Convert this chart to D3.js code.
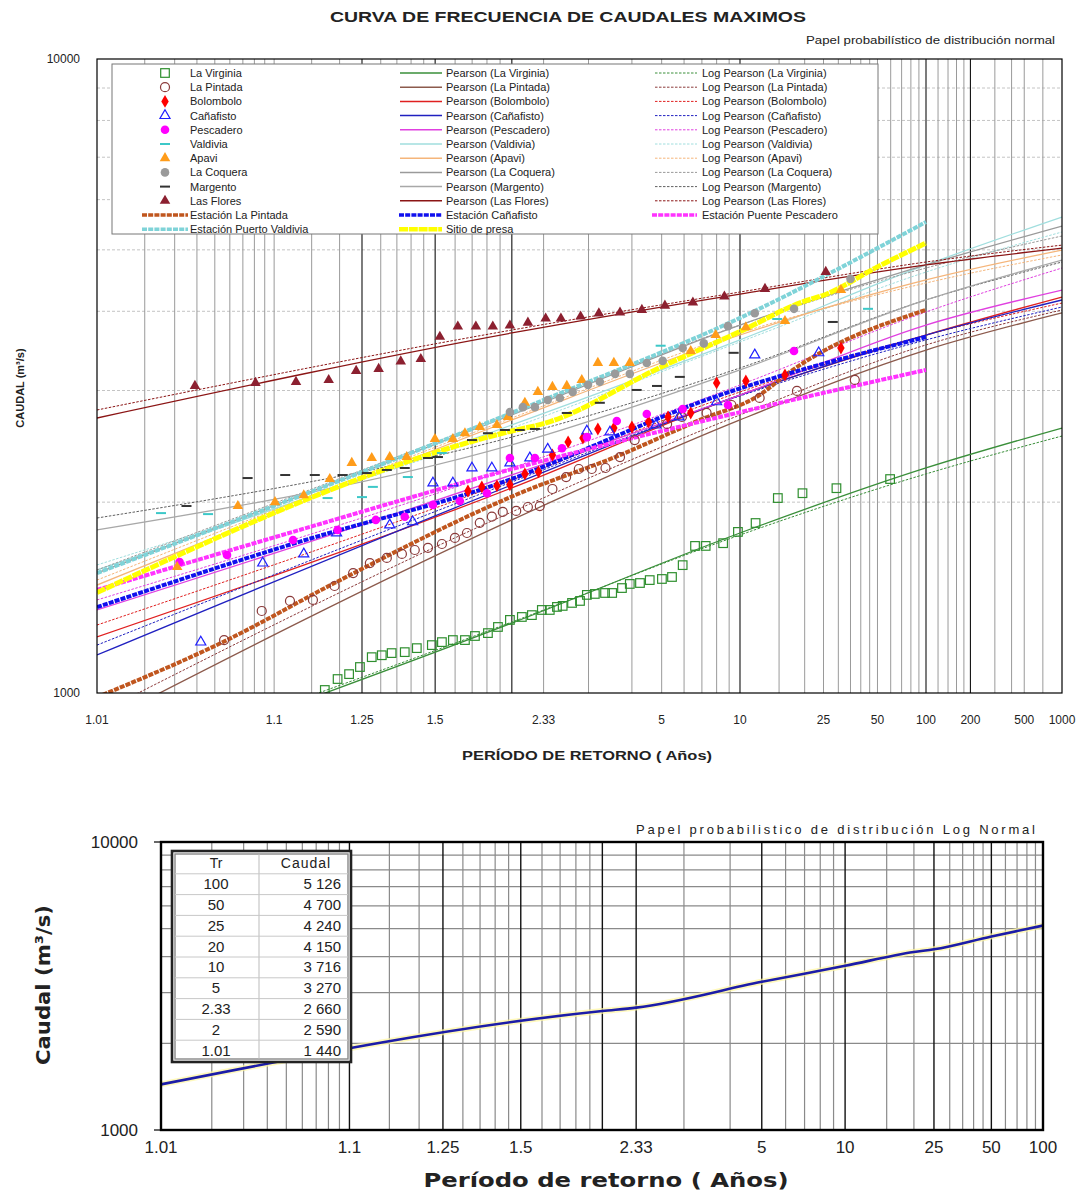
<!DOCTYPE html>
<html>
<head>
<meta charset="utf-8">
<script src="https://cdn.jsdelivr.net/npm/d3@7"></script>
<style>
  body { margin: 0; background: #fff; }
  svg { display: block; }
  text { font-family: "Liberation Sans", Arial, sans-serif; fill: #222; }
</style>
</head>
<body>
<div id="chart"></div>
<script>
// ---------- observed maxima [return period (years), caudal m3/s] ----------
const obsLaVirginia = [[1.172,1011],[1.196,1052],[1.22,1071],[1.245,1099],[1.275,1139],[1.303,1147],[1.333,1156],[1.377,1160],[1.422,1177],[1.485,1190],[1.532,1203],[1.588,1212],[1.656,1212],[1.718,1230],[1.807,1243],[1.883,1271],[1.983,1304],[2.094,1318],[2.197,1327],[2.309,1352],[2.406,1352],[2.5,1367],[2.58,1372],[2.72,1387],[2.85,1397],[2.97,1428],[3.12,1433],[3.33,1438],[3.49,1438],[3.73,1464],[3.94,1486],[4.24,1491],[4.56,1507],[5.01,1513],[5.43,1524],[5.93,1591],[6.59,1706],[7.24,1706],[8.5,1723],[9.8,1795],[11.7,1854],[14.8,2030],[19.5,2066],[29.3,2104],[59.5,2175]];
const obsLaPintada = [[1.056,1212],[1.087,1347],[1.119,1397],[1.152,1402],[1.19,1475],[1.229,1546],[1.27,1603],[1.318,1633],[1.367,1657],[1.414,1681],[1.468,1694],[1.532,1718],[1.599,1756],[1.668,1788],[1.75,1855],[1.836,1897],[1.922,1930],[2.04,1937],[2.155,1965],[2.285,1972],[2.44,2098],[2.63,2191],[2.83,2256],[3.06,2256],[3.34,2264],[3.68,2356],[4.08,2506],[5.22,2657],[5.89,2725],[7.3,2765],[9.2,2846],[12.2,2920],[18.3,2995],[37,3117]];
const obsBolombolo = [[1.674,2083],[1.764,2114],[1.875,2122],[1.983,2130],[2.124,2216],[2.27,2232],[2.44,2373],[2.66,2488],[2.9,2524],[3.18,2609],[3.53,2618],[4.0,2627],[4.52,2677],[5.26,2725],[6.35,2765],[8.0,3084],[10.6,3106],[16,3175],[31,3500]];
const obsCanafisto = [[1.042,1203],[1.088,1603],[1.138,1657],[1.194,1788],[1.327,1841],[1.406,1862],[1.49,2144],[1.588,2144],[1.699,2264],[1.836,2264],[1.983,2306],[2.175,2348],[2.38,2424],[2.97,2589],[3.44,2580],[4.78,2646],[5.75,2725],[8.0,2879],[11.6,3413],[23.6,3440]];
const obsPescadero = [[1.032,1609],[1.058,1651],[1.123,1743],[1.196,1808],[1.286,1875],[1.377,1897],[1.49,1980],[1.626,2008],[1.8,2066],[1.983,2348],[2.23,2348],[2.57,2433],[2.97,2533],[3.6,2686],[4.46,2755],[5.93,2805],[8.9,2846],[17.7,3463]];
const obsValdivia = [[1.025,1922],[1.046,1915],[1.177,2030],[1.25,2037],[1.278,2114],[1.388,2191],[1.532,2391],[4.96,3530],[14.7,3890],[44,4036]];
const obsApavi = [[1.031,1580],[1.066,1972],[1.101,2000],[1.138,2051],[1.181,2175],[1.226,2306],[1.275,2348],[1.327,2356],[1.384,2356],[1.499,2515],[1.588,2515],[1.656,2569],[1.75,2627],[1.875,2646],[1.966,2725],[2.124,2869],[2.263,2985],[2.44,3040],[2.64,3050],[2.88,3117],[3.18,3316],[3.53,3316],[3.94,3316],[6.35,3463],[7.93,3670],[10.6,3775],[16,3862],[31,4322]];
const obsLaCoquera = [[1.983,2775],[2.104,2824],[2.23,2824],[2.38,2899],[2.54,2920],[2.73,2985],[2.99,3062],[3.22,3096],[3.56,3187],[3.94,3187],[4.46,3316],[5.04,3341],[5.93,3500],[7.12,3560],[8.9,3790],[11.6,3972],[17.7,4036],[35,4500]];
const obsMargento = [[1.035,1972],[1.074,2183],[1.113,2207],[1.155,2207],[1.206,2207],[1.262,2223],[1.318,2248],[1.377,2264],[1.468,2348],[1.513,2356],[1.699,2506],[1.807,2569],[1.94,2599],[2.074,2599],[2.23,2609],[2.64,2765],[3.22,2869],[4.14,3006],[4.82,3050],[5.79,3152],[9.4,3440],[28,3848]];
const obsLasFlores = [[1.039,3050],[1.081,3084],[1.127,3095],[1.179,3117],[1.236,3221],[1.294,3245],[1.363,3334],[1.438,3364],[1.522,3646],[1.615,3784],[1.724,3784],[1.843,3784],[1.983,3798],[2.155,3838],[2.355,3896],[2.555,3896],[2.86,3925],[3.2,3969],[3.68,3983],[4.3,4020],[5.13,4083],[6.47,4130],[8.6,4220],[12.9,4339],[25.7,4615]];

// ---------- fitted distributions, caudal at these return periods ----------
const fitT = [1.01, 2, 10, 100, 1000];
const pearsonLaVirginia    = [740, 1289, 1788, 2265, 2618];
const logPearsonLaVirginia = [750, 1294, 1775, 2216, 2543];
const pearsonLaPintada     = [890, 1875, 2696, 3475, 3976];
const logPearsonLaPintada  = [927, 1930, 2745, 3540, 4019];
const pearsonBolombolo     = [1226, 2106, 2951, 3670, 4213];
const logPearsonBolombolo  = [1280, 2168, 2984, 3670, 4122];
const pearsonCanafisto     = [1148, 2129, 2951, 3670, 4168];
const logPearsonCanafisto  = [1190, 2152, 2941, 3605, 4063];
const pearsonPescadero     = [1352, 2208, 2951, 3805, 4320];
const logPearsonPescadero  = [1402, 2265, 3061, 3990, 4681];
const pearsonValdivia      = [1563, 2647, 3605, 4733, 5633];
const logPearsonValdivia   = [1592, 2618, 3579, 4613, 5335];
const pearsonApavi         = [1480, 2696, 3670, 4482, 4996];
const logPearsonApavi      = [1507, 2715, 3697, 4433, 4908];
const pearsonLaCoquera     = [1546, 2745, 3805, 4733, 5452];
const logPearsonLaCoquera  = [1563, 2765, 3805, 4681, 5258];
const pearsonMargento      = [1808, 2462, 3233, 4168, 4819];
const logPearsonMargento   = [1888, 2533, 3256, 4168, 4784];
const pearsonLasFlores     = [2715, 3697, 4258, 4733, 5033];
const logPearsonLasFlores  = [2795, 3737, 4290, 4784, 5087];

// ---------- regional curves ----------
const estLaPintadaT = [1.01, 1.058, 1.19, 2.074, 3.68, 6.87, 12.2, 16.9, 100];
const estLaPintadaQ = [985, 1212, 1491, 2066, 2373, 2696, 2952, 3210, 4020];
const estCanafistoT = [1.01, 1.126, 1.858, 8.25, 100];
const estCanafistoQ = [1366, 1724, 2129, 2951, 3643];
const estPescaderoT = [1.01, 1.132, 2.074, 8.25, 100];
const estPescaderoQ = [1454, 1808, 2273, 2725, 3233];
const estValdiviaT  = [1.01, 2.33, 10, 100];
const estValdiviaQ  = [1546, 2899, 3905, 5533];

// ---------- sitio de presa (table of the lower chart) ----------
const tableTr = [100, 50, 25, 20, 10, 5, 2.33, 2, 1.01];
const tableQ  = [5126, 4700, 4240, 4150, 3716, 3270, 2660, 2590, 1440];

// ---------- names / ticks ----------
const stations = ['La Virginia','La Pintada','Bolombolo','Cañafisto','Pescadero','Valdivia','Apavi','La Coquera','Margento','Las Flores'];
const topTicks = [1.01, 1.1, 1.25, 1.5, 2.33, 5, 10, 25, 50, 100, 200, 500, 1000];
const topMajorGrid = [1.25, 1.5, 2, 10, 100, 200];
const topMinorGrid = [1.02,1.03,1.04,1.05,1.06,1.07,1.08,1.09,1.1,1.15,1.2,1.3,1.35,1.4,1.45,1.6,1.7,1.8,1.9,2.33,3,4,5,6,7,8,9,15,20,25,30,35,40,45,50,60,70,80,90,120,140,160,180,300,400,500,700];
const botTicks = [1.01, 1.1, 1.25, 1.5, 2.33, 5, 10, 25, 50, 100];
const botMajorGrid = [1.1, 1.25, 1.5, 2, 2.33, 5, 10, 25, 50];
const botMinorGrid = [1.02,1.03,1.04,1.05,1.06,1.07,1.08,1.09,1.15,1.2,1.3,1.35,1.4,1.45,1.6,1.7,1.8,1.9,3,4,6,7,8,9,15,20,30,35,40,45,60,70,80,90];
const qGrid = [2000, 3000, 4000, 5000, 6000, 7000, 8000, 9000];

// ---------- styles ----------
const markerColors = ['#2f8f2f','#8b3a3a','#ff0000','#1f1fff','#ff00ff','#3cc8c8','#ff9c1a','#9a9a9a','#333333','#8c2030'];
const markerTypes  = ['square','ring','diamond','triangleOpen','dot','dash','triangle','dot','dash','triangle'];
const pearsonColors    = ['#3a8f3a','#8c5a4c','#e02020','#2020c0','#e040e0','#a0dede','#f5b57a','#9a9a9a','#a8a8a8','#8b1515'];
const logPearsonColors = ['#3a8f3a','#8c3a3a','#e02020','#2020c0','#e040e0','#a0dede','#f5b57a','#9a9a9a','#606060','#8b1515'];

const observed = [obsLaVirginia, obsLaPintada, obsBolombolo, obsCanafisto, obsPescadero, obsValdivia, obsApavi, obsLaCoquera, obsMargento, obsLasFlores];
const pearsonFits = [pearsonLaVirginia, pearsonLaPintada, pearsonBolombolo, pearsonCanafisto, pearsonPescadero, pearsonValdivia, pearsonApavi, pearsonLaCoquera, pearsonMargento, pearsonLasFlores];
const logPearsonFits = [logPearsonLaVirginia, logPearsonLaPintada, logPearsonBolombolo, logPearsonCanafisto, logPearsonPescadero, logPearsonValdivia, logPearsonApavi, logPearsonLaCoquera, logPearsonMargento, logPearsonLasFlores];

const regional = [
  {name: 'Estación La Pintada', T: estLaPintadaT, Q: estLaPintadaQ, color: '#c0561e', w: 4, dash: '5,1.2'},
  {name: 'Estación Cañafisto', T: estCanafistoT, Q: estCanafistoQ, color: '#1010ee', w: 4, dash: '5,1.2'},
  {name: 'Estación Puente Pescadero', T: estPescaderoT, Q: estPescaderoQ, color: '#ff33ff', w: 4, dash: '5,1.2'},
  {name: 'Estación Puerto Valdivia', T: estValdiviaT, Q: estValdiviaQ, color: '#7fd3d8', w: 4, dash: '5,1.2'},
  {name: 'Sitio de presa', T: tableTr.slice().reverse(), Q: tableQ.slice().reverse(), color: '#ffff00', w: 5, dash: '9,0.8'}
];

// inverse standard normal (Acklam)
function probit(p){
  const a=[-3.969683028665376e+01,2.209460984245205e+02,-2.759285104469687e+02,1.383577518672690e+02,-3.066479806614716e+01,2.506628277459239e+00];
  const b=[-5.447609879822406e+01,1.615858368580409e+02,-1.556989798598866e+02,6.680131188771972e+01,-1.328068155288572e+01];
  const c=[-7.784894002430293e-03,-3.223964580411365e-01,-2.400758277161838e+00,-2.549732539343734e+00,4.374664141464968e+00,2.938163982698783e+00];
  const d=[7.784695709041462e-03,3.224671290700398e-01,2.445134137142996e+00,3.754408661907416e+00];
  const pl = 0.02425;
  let q, r;
  if (p < pl) { q = Math.sqrt(-2*Math.log(p)); return (((((c[0]*q+c[1])*q+c[2])*q+c[3])*q+c[4])*q+c[5])/((((d[0]*q+d[1])*q+d[2])*q+d[3])*q+1); }
  if (p <= 1-pl) { q = p-0.5; r = q*q; return (((((a[0]*r+a[1])*r+a[2])*r+a[3])*r+a[4])*r+a[5])*q/(((((b[0]*r+b[1])*r+b[2])*r+b[3])*r+b[4])*r+1); }
  q = Math.sqrt(-2*Math.log(1-p));
  return -(((((c[0]*q+c[1])*q+c[2])*q+c[3])*q+c[4])*q+c[5])/((((d[0]*q+d[1])*q+d[2])*q+d[3])*q+1);
}
const zT = T => probit(1 - 1/T);

const svg = d3.select('#chart').append('svg').attr('width', 1090).attr('height', 1192);

function drawMarker(g, type, color){
  if (type === 'square') g.append('rect').attr('x',-4.3).attr('y',-4.3).attr('width',8.6).attr('height',8.6).attr('fill','none').attr('stroke',color).attr('stroke-width',1.2);
  else if (type === 'ring') g.append('circle').attr('r',4.5).attr('fill','none').attr('stroke',color).attr('stroke-width',1.2);
  else if (type === 'dot') g.append('circle').attr('r',4.3).attr('fill',color);
  else if (type === 'diamond') g.append('path').attr('d', d3.symbol(d3.symbolDiamond, 48)()).attr('fill',color);
  else if (type === 'triangle') g.append('path').attr('d', d3.symbol(d3.symbolTriangle, 48)()).attr('fill',color);
  else if (type === 'triangleOpen') g.append('path').attr('d', d3.symbol(d3.symbolTriangle, 44)()).attr('fill','none').attr('stroke',color).attr('stroke-width',1.2);
  else if (type === 'dash') g.append('line').attr('x1',-5).attr('x2',5).attr('stroke',color).attr('stroke-width',2);
}

// =================== TOP CHART ===================
const topBox = {l: 97, r: 1062, t: 59, b: 693};
const xTop = d3.scaleLinear().domain([zT(1.01), zT(1000)]).range([topBox.l, topBox.r]);
const yTop = d3.scaleLog().domain([1000, 10000]).range([topBox.b, topBox.t]);
const tx = T => xTop(zT(T));

svg.append('defs').append('clipPath').attr('id','clipTop')
  .append('rect').attr('x',topBox.l).attr('y',topBox.t).attr('width',topBox.r-topBox.l).attr('height',topBox.b-topBox.t);

const gTop = svg.append('g');
gTop.selectAll('.hgrid').data(qGrid).join('line')
  .attr('x1',topBox.l).attr('x2',topBox.r).attr('y1',d=>yTop(d)).attr('y2',d=>yTop(d))
  .attr('stroke','#c4c4c4').attr('stroke-width',1).attr('stroke-dasharray','3,2');
gTop.selectAll('.vminor').data(topMinorGrid).join('line')
  .attr('x1',tx).attr('x2',tx).attr('y1',topBox.t).attr('y2',topBox.b)
  .attr('stroke','#9a9a9a').attr('stroke-width',1);
gTop.selectAll('.vmajor').data(topMajorGrid).join('line')
  .attr('x1',tx).attr('x2',tx).attr('y1',topBox.t).attr('y2',topBox.b)
  .attr('stroke','#111').attr('stroke-width',1.1);

const plotTop = gTop.append('g').attr('clip-path','url(#clipTop)');
const fitLine = d3.line().x(d=>tx(d[0])).y(d=>yTop(d[1])).curve(d3.curveMonotoneX);

stations.forEach((s,i)=>{
  plotTop.append('path').datum(fitT.map((t,k)=>[t, logPearsonFits[i][k]]))
    .attr('d',fitLine).attr('fill','none').attr('stroke',logPearsonColors[i]).attr('stroke-width',1).attr('stroke-dasharray','2.5,1.5');
  plotTop.append('path').datum(fitT.map((t,k)=>[t, pearsonFits[i][k]]))
    .attr('d',fitLine).attr('fill','none').attr('stroke',pearsonColors[i]).attr('stroke-width',1.3);
});

regional.forEach(r=>{
  plotTop.append('path').datum(r.T.map((t,k)=>[t, r.Q[k]]))
    .attr('d',fitLine).attr('fill','none').attr('stroke',r.color).attr('stroke-width',r.w).attr('stroke-dasharray',r.dash);
});

observed.forEach((obs,i)=>{
  plotTop.selectAll(null).data(obs).join('g')
    .attr('transform',d=>`translate(${tx(d[0])},${yTop(d[1])})`)
    .each(function(){ drawMarker(d3.select(this), markerTypes[i], markerColors[i]); });
});

gTop.append('rect').attr('x',topBox.l).attr('y',topBox.t).attr('width',topBox.r-topBox.l).attr('height',topBox.b-topBox.t)
  .attr('fill','none').attr('stroke','#000').attr('stroke-width',1.2);

// axis labels
gTop.selectAll('.xt').data(topTicks).join('text')
  .attr('x',tx).attr('y',724).attr('text-anchor','middle').attr('font-size',12).text(d=>d);
gTop.selectAll('.yt').data([1000,10000]).join('text')
  .attr('x',80).attr('y',d=>yTop(d)+4).attr('text-anchor','end').attr('font-size',12).text(d=>d);

svg.append('text').attr('x',568).attr('y',22).attr('text-anchor','middle').attr('font-size',14).attr('font-weight','bold')
  .attr('textLength',476).attr('lengthAdjust','spacingAndGlyphs').text('CURVA DE FRECUENCIA DE CAUDALES MAXIMOS');
svg.append('text').attr('x',1055).attr('y',44).attr('text-anchor','end').attr('font-size',11)
  .attr('textLength',249).attr('lengthAdjust','spacingAndGlyphs').text('Papel probabilístico de distribución normal');
svg.append('text').attr('x',587).attr('y',760).attr('text-anchor','middle').attr('font-size',13).attr('font-weight','bold')
  .attr('textLength',250).attr('lengthAdjust','spacingAndGlyphs').text('PERÍODO DE RETORNO   ( Años)');
svg.append('text').attr('transform','translate(24,388) rotate(-90)').attr('text-anchor','middle').attr('font-size',11).attr('font-weight','bold')
  .text('CAUDAL  (m³/s)');

// legend
const lg = svg.append('g');
lg.append('rect').attr('x',112).attr('y',64).attr('width',766).attr('height',170).attr('fill','#fff').attr('stroke','#777').attr('stroke-width',1);
const rowY = i => 73 + i*14.2;
stations.forEach((s,i)=>{
  const g = lg.append('g').attr('transform',`translate(165,${rowY(i)})`);
  drawMarker(g, markerTypes[i], markerColors[i]);
  lg.append('text').attr('x',190).attr('y',rowY(i)+4).attr('font-size',11).attr('fill','#333').text(s);
  lg.append('line').attr('x1',400).attr('x2',442).attr('y1',rowY(i)).attr('y2',rowY(i)).attr('stroke',pearsonColors[i]).attr('stroke-width',1.5);
  lg.append('text').attr('x',446).attr('y',rowY(i)+4).attr('font-size',11).attr('fill','#333').text(`Pearson (${s})`);
  lg.append('line').attr('x1',655).attr('x2',697).attr('y1',rowY(i)).attr('y2',rowY(i)).attr('stroke',logPearsonColors[i]).attr('stroke-width',1).attr('stroke-dasharray','2.5,1.5');
  lg.append('text').attr('x',702).attr('y',rowY(i)+4).attr('font-size',11).attr('fill','#333').text(`Log Pearson (${s})`);
});
const regLegend = [[0,10,142,188,190],[1,10,399,442,446],[2,10,652,697,702],[3,11,142,188,190],[4,11,399,442,446]];
regLegend.forEach(([k,row,x1,x2,tx0])=>{
  const r = regional[k];
  lg.append('line').attr('x1',x1).attr('x2',x2).attr('y1',rowY(row)).attr('y2',rowY(row))
    .attr('stroke',r.color).attr('stroke-width',r.w-0.5).attr('stroke-dasharray',r.dash);
  lg.append('text').attr('x',tx0).attr('y',rowY(row)+4).attr('font-size',11).attr('fill','#333').text(r.name);
});

// =================== BOTTOM CHART ===================
const botBox = {l: 161, r: 1043, t: 842, b: 1130};
const xBot = d3.scaleLinear().domain([zT(1.01), zT(100)]).range([botBox.l, botBox.r]);
const yBot = d3.scaleLog().domain([1000, 10000]).range([botBox.b, botBox.t]);
const bx = T => xBot(zT(T));
const gBot = svg.append('g');

gBot.selectAll('.bh').data(qGrid).join('line')
  .attr('x1',botBox.l).attr('x2',botBox.r).attr('y1',d=>yBot(d)).attr('y2',d=>yBot(d))
  .attr('stroke','#8a8a8a').attr('stroke-width',1.3);
gBot.selectAll('.bvm').data(botMinorGrid).join('line')
  .attr('x1',bx).attr('x2',bx).attr('y1',botBox.t).attr('y2',botBox.b)
  .attr('stroke','#8a8a8a').attr('stroke-width',1.2);
gBot.selectAll('.bvM').data(botMajorGrid).join('line')
  .attr('x1',bx).attr('x2',bx).attr('y1',botBox.t).attr('y2',botBox.b)
  .attr('stroke','#111').attr('stroke-width',1.4);

const presa = tableTr.map((t,k)=>[t, tableQ[k]]).sort((a,b)=>a[0]-b[0]);
const botLine = d3.line().x(d=>bx(d[0])).y(d=>yBot(d[1])).curve(d3.curveMonotoneX);
gBot.append('path').datum(presa).attr('d',botLine).attr('fill','none').attr('stroke','#fff6a0').attr('stroke-width',6).attr('opacity',0.7);
gBot.append('path').datum(presa).attr('d',botLine).attr('fill','none').attr('stroke','#1c1ca8').attr('stroke-width',2.6);

gBot.append('rect').attr('x',botBox.l).attr('y',botBox.t).attr('width',botBox.r-botBox.l).attr('height',botBox.b-botBox.t)
  .attr('fill','none').attr('stroke','#000').attr('stroke-width',2.4);

gBot.selectAll('.bxt').data(botTicks).join('text')
  .attr('x',bx).attr('y',1153).attr('text-anchor','middle').attr('font-size',17).attr('fill','#333').text(d=>d);
gBot.selectAll('.byt').data([1000,10000]).join('text')
  .attr('x',138).attr('y',d=>yBot(d)+6).attr('text-anchor','end').attr('font-size',17).attr('fill','#333').text(d=>d);
gBot.selectAll('.bytk').data([1000,10000]).join('line')
  .attr('x1',154).attr('x2',botBox.l).attr('y1',d=>yBot(d)).attr('y2',d=>yBot(d)).attr('stroke','#000').attr('stroke-width',1.2);

svg.append('text').attr('x',1035).attr('y',834).attr('text-anchor','end').attr('font-size',13).attr('fill','#333')
  .attr('textLength',399).attr('lengthAdjust','spacing').text('Papel probabilistico de distribución  Log Normal');
svg.append('text').attr('x',606).attr('y',1187).attr('text-anchor','middle').attr('font-size',19).attr('font-weight','bold')
  .style('font-family','"DejaVu Sans", sans-serif').attr('textLength',365).attr('lengthAdjust','spacingAndGlyphs')
  .text('Período de retorno  ( Años)');
svg.append('text').attr('transform','translate(50,985) rotate(-90)').attr('text-anchor','middle').attr('font-size',20).attr('font-weight','bold')
  .style('font-family','"DejaVu Sans", sans-serif').attr('textLength',160).attr('lengthAdjust','spacingAndGlyphs')
  .text('Caudal (m³/s)');

// table
const tb = svg.append('g');
const tbx = 172, tby = 851, tbw = 179, rowH = 20.8;
tb.append('rect').attr('x',tbx).attr('y',tby).attr('width',tbw).attr('height',rowH*10+3).attr('fill','#fff').attr('stroke','#222').attr('stroke-width',2.6);
tb.append('rect').attr('x',tbx+3).attr('y',tby+3).attr('width',tbw-6).attr('height',rowH*10-3).attr('fill','none').attr('stroke','#888').attr('stroke-width',1.4);
tb.append('line').attr('x1',259).attr('x2',259).attr('y1',tby+3).attr('y2',tby+rowH*10).attr('stroke','#bbb');
d3.range(1,10).forEach(i=>{
  tb.append('line').attr('x1',tbx+3).attr('x2',tbx+tbw-3).attr('y1',tby+2+i*rowH).attr('y2',tby+2+i*rowH).attr('stroke','#c8c8c8');
});
tb.append('text').attr('x',216).attr('y',tby+2+rowH/2+5).attr('text-anchor','middle').attr('font-size',14).text('Tr');
tb.append('text').attr('x',306).attr('y',tby+2+rowH/2+5).attr('text-anchor','middle').attr('font-size',14).attr('letter-spacing',1).text('Caudal');
const fmt = v => d3.format(',')(v).replace(',', ' ');
tableTr.forEach((t,i)=>{
  const yy = tby+2+(i+1)*rowH+rowH/2+5;
  tb.append('text').attr('x',216).attr('y',yy).attr('text-anchor','middle').attr('font-size',15).text(t);
  tb.append('text').attr('x',341).attr('y',yy).attr('text-anchor','end').attr('font-size',15).text(fmt(tableQ[i]));
});
</script>
</body>
</html>
